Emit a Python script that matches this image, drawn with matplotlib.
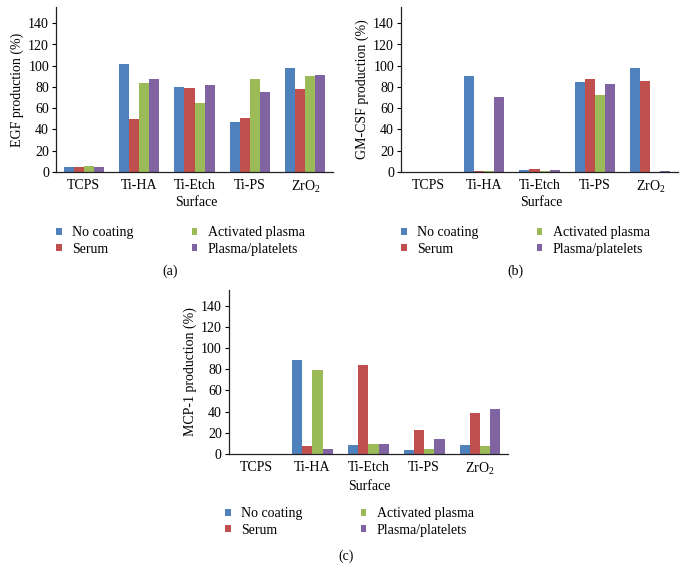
import matplotlib
matplotlib.use("Agg")
import matplotlib.pyplot as plt
from matplotlib.patches import Patch
import numpy as np

plt.rcParams['font.family'] = ['Liberation Serif', 'DejaVu Serif']
plt.rcParams['mathtext.fontset'] = 'custom'
plt.rcParams['mathtext.rm'] = 'Liberation Serif'
plt.rcParams['mathtext.it'] = 'Liberation Serif:italic'

categories = ['TCPS', 'Ti-HA', 'Ti-Etch', 'Ti-PS', 'ZrO$_2$']
series = ['No coating', 'Serum', 'Activated plasma', 'Plasma/platelets']
colors = ['#4F81BD', '#C0504D', '#9BBB59', '#8064A2']

egf_no_coating = [4, 101.5, 79.6, 46.5, 97.5]
egf_serum = [4.5, 49.4, 79.2, 50.3, 78]
egf_activated = [5.5, 83.3, 65, 87.4, 90]
egf_platelets = [4.5, 87.4, 81.8, 75.5, 91.5]

gm_no_coating = [0, 90.3, 1.5, 84.3, 97.8]
gm_serum = [0, 0.5, 2.5, 87.4, 85.5]
gm_activated = [0, 0.5, 0.3, 72, 0]
gm_platelets = [0, 70.8, 1.5, 82.7, 0.3]

mcp_no_coating = [0, 88.5, 8.2, 3.5, 8.5]
mcp_serum = [0, 7.3, 83.8, 22.1, 38.6]
mcp_activated = [0, 79.3, 9.2, 4.4, 7.3]
mcp_platelets = [0, 4.1, 9.2, 14.2, 42.4]

W, H = 689, 581
FS = 10
fig = plt.figure(figsize=(W / 100, H / 100), dpi=100)


def px_axes(left, right, top, bottom):
    return fig.add_axes([left / W, 1 - bottom / H, (right - left) / W, (bottom - top) / H])


def draw_panel(ax, data, ylabel, surf_xy, leg_xy, tag_xy, tag):
    x = np.arange(len(categories))
    bw = 0.182
    for i, (vals, c) in enumerate(zip(data, colors)):
        ax.bar(x + (i - 1.5) * bw, vals, width=bw, color=c, edgecolor='none')
    ax.set_xlim(-0.5, len(categories) - 0.5)
    ax.set_ylim(0, 155)
    ax.set_yticks(np.arange(0, 141, 20))
    ax.set_xticks(x)
    ax.set_xticklabels(categories)
    ax.tick_params(axis='x', length=0, labelsize=FS, pad=5)
    ax.tick_params(axis='y', length=3, width=0.8, labelsize=FS, direction='out', pad=2)
    for s in ['top', 'right']:
        ax.spines[s].set_visible(False)
    for s in ['left', 'bottom']:
        ax.spines[s].set_color('#222222')
        ax.spines[s].set_linewidth(0.9)
    ax.set_ylabel(ylabel, fontsize=FS, labelpad=3)
    fig.text(surf_xy[0] / W, 1 - surf_xy[1] / H, 'Surface', ha='center', va='center', fontsize=FS)
    fig.text(tag_xy[0] / W, 1 - tag_xy[1] / H, tag, ha='center', va='center', fontsize=FS)
    handles = [Patch(facecolor=c, edgecolor='none') for c in colors]
    ax.legend(handles, series, loc='upper left',
              bbox_to_anchor=(leg_xy[0] / W, 1 - leg_xy[1] / H),
              bbox_transform=fig.transFigure, ncol=2, frameon=False,
              fontsize=FS, handlelength=0.4, handleheight=0.4,
              handletextpad=0.75, labelspacing=0.28, columnspacing=4.2,
              borderpad=0, borderaxespad=0)


axa = px_axes(56, 333, 7.4, 171.7)
draw_panel(axa, [egf_no_coating, egf_serum, egf_activated, egf_platelets],
           'EGF production (%)', (196, 203), (56, 226), (170, 271), '(a)')

axb = px_axes(401, 678, 7.4, 171.7)
draw_panel(axb, [gm_no_coating, gm_serum, gm_activated, gm_platelets],
           'GM-CSF production (%)', (541, 203), (401, 226), (515, 271), '(b)')

axc = px_axes(228.7, 508, 290.2, 453.7)
draw_panel(axc, [mcp_no_coating, mcp_serum, mcp_activated, mcp_platelets],
           'MCP-1 production (%)', (369, 486), (225, 507), (346, 556), '(c)')

fig.savefig('out.png', dpi=100)
